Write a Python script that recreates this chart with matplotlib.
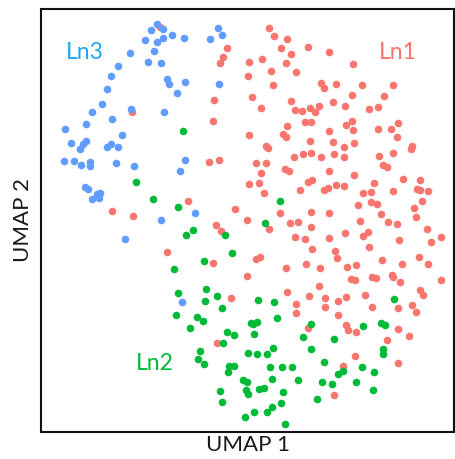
import matplotlib
matplotlib.use('Agg')
import matplotlib.pyplot as plt

plt.rcParams['font.family'] = ['Lato', 'DejaVu Sans']

# UMAP coordinates (umap2 grows downwards, axis is inverted)
ln1_umap1 = [160, 227, 223, 220, 249, 248, 252, 214, 213, 249, 209, 219, 249, 188, 112, 133, 235, 132,
             269, 274, 287, 281, 308, 291, 329, 262, 286, 353, 271, 296, 273, 321, 324, 336, 362, 393,
             291, 352, 384, 333, 345, 261, 295, 302, 310, 315, 319, 369, 378, 305, 311, 287, 346, 352,
             353, 398, 378, 391, 283, 286, 329, 397, 310, 333, 266, 268, 344, 354, 412, 411, 294, 303,
             311, 321, 334, 344, 379, 393, 256, 266, 383, 387, 285, 289, 329, 261, 354, 259, 308, 312,
             336, 344, 328, 324, 374, 403, 420, 300, 264, 363, 371, 393, 417, 420, 428, 422, 371, 377,
             358, 414, 280, 311, 329, 381, 416,
             247, 269, 290, 298, 311, 360, 388, 397, 427, 441, 431, 399, 295, 305, 329, 345, 363, 368,
             369, 312, 335, 337, 256, 260, 306, 286, 320, 347, 356, 382, 402, 419, 428, 247, 351, 355,
             372, 376, 392, 393, 400, 441, 319, 287, 309, 325, 346, 338, 365, 420, 423, 296, 325, 372,
             398, 412, 416, 296, 338, 308, 346, 348, 356, 398, 409, 387, 355, 398, 343, 334,
             216, 221, 167, 213, 231, 217]
ln1_umap2 = [27, 48, 57, 63, 62, 76, 97, 100, 121, 135, 162, 160, 184, 201, 211, 216, 209, 112,
             28, 36, 39, 48, 47, 54, 52, 59, 63, 64, 71, 72, 85, 83, 88, 84, 85, 85,
             101, 95, 96, 102, 106, 108, 110, 111, 108, 112, 106, 109, 107, 122, 122, 126, 125, 121,
             130, 123, 129, 129, 134, 137, 131, 137, 141, 142, 146, 148, 147, 143, 146, 149, 157, 154,
             153, 157, 154, 157, 156, 153, 163, 163, 165, 167, 169, 171, 171, 173, 175, 183, 182, 180,
             185, 186, 188, 190, 183, 179, 180, 190, 193, 193, 192, 191, 189, 190, 191, 201, 202, 204,
             205, 208, 213, 212, 213, 214, 217,
             220, 229, 223, 222, 227, 221, 222, 224, 229, 237, 242, 240, 237, 239, 238, 233, 236, 232,
             247, 249, 251, 258, 259, 257, 264, 268, 268, 267, 265, 260, 264, 257, 264, 276, 279, 280,
             277, 278, 275, 277, 282, 280, 286, 292, 296, 298, 297, 301, 295, 290, 295, 304, 307, 307,
             308, 305, 312, 313, 315, 328, 325, 330, 332, 329, 336, 340, 356, 363, 366, 395,
             225, 231, 252, 263, 298, 343]

ln2_umap1 = [183, 136, 153, 178, 280, 265,
             258, 274, 277, 251, 253, 257, 254, 311, 303, 334, 311, 363, 381, 385, 394, 383, 383, 248,
             257, 267, 273, 324, 362, 374, 270, 282, 292, 338, 343, 356, 373, 272, 298, 322, 332, 243,
             247, 246, 248, 259, 264, 283, 317, 281, 272, 267, 254, 245, 285,
             193, 186, 225, 232, 204, 174, 178, 206, 205, 217, 222, 176, 197, 203, 190, 227, 234, 223,
             200, 198, 204, 229, 234, 228, 220, 222]
ln2_umap2 = [131, 182, 199, 207, 201, 223,
             300, 302, 318, 323, 324, 322, 334, 324, 337, 339, 349, 326, 323, 325, 299, 349, 354, 353,
             354, 354, 348, 362, 367, 372, 367, 367, 367, 374, 371, 382, 390, 379, 380, 382, 384, 380,
             382, 390, 394, 389, 388, 392, 399, 403, 407, 412, 412, 417, 424,
             230, 235, 235, 253, 261, 269, 293, 289, 301, 296, 308, 315, 317, 321, 328, 332, 335, 343,
             351, 359, 364, 366, 366, 372, 391, 402]

ln3_umap1 = [157, 151, 163, 172, 184, 163, 145, 157, 154, 130, 148, 161, 118, 111, 167, 169, 185, 177,
             107, 102, 131, 164, 92, 112, 86, 65, 122, 71, 86, 83, 80, 107, 111, 118, 64, 74, 81, 90,
             90, 116, 134, 185, 180, 85, 88, 100, 97, 92, 99, 195, 210, 218, 222, 219, 161, 125, 182]
ln3_umap2 = [24, 30, 29, 35, 38, 38, 40, 42, 51, 53, 62, 63, 66, 76, 79, 84, 82, 93,
             89, 104, 109, 112, 112, 119, 124, 129, 135, 143, 141, 144, 149, 147, 144, 147, 161, 161, 165, 162,
             166, 163, 166, 160, 171, 187, 189, 193, 194, 199, 198, 213, 39, 28, 35, 84, 220, 239, 302]

labels = ['Ln1', 'Ln2', 'Ln3']
label_pos = [(398, 52), (155, 363), (85, 52)]
point_colors = ['#F8766D', '#00BA38', '#619CFF']
label_colors = ['#F8766D', '#00BA38', '#1FA8EE']

fig = plt.figure(figsize=(4.55, 4.59), dpi=100)
ax = fig.add_axes([41 / 455, 27 / 459, 413 / 455, 423 / 459])

for xs, ys, c in zip([ln1_umap1, ln2_umap1, ln3_umap1],
                     [ln1_umap2, ln2_umap2, ln3_umap2], point_colors):
    ax.scatter(xs, ys, s=30, color=c, linewidths=0)

for lab, (x, y), c in zip(labels, label_pos, label_colors):
    ax.text(x, y, lab, color=c, fontsize=16.5, ha='center', va='center')

ax.set_xlim(41, 454)
ax.set_ylim(432, 9)
ax.set_xticks([])
ax.set_yticks([])
for sp in ax.spines.values():
    sp.set_linewidth(1.5)
    sp.set_color('#111111')

ax.set_xlabel('UMAP 1', fontsize=16, color='#1a1a1a', labelpad=2)
ax.set_ylabel('UMAP 2', fontsize=16, color='#1a1a1a', labelpad=6)

fig.savefig('out.png', dpi=100)
